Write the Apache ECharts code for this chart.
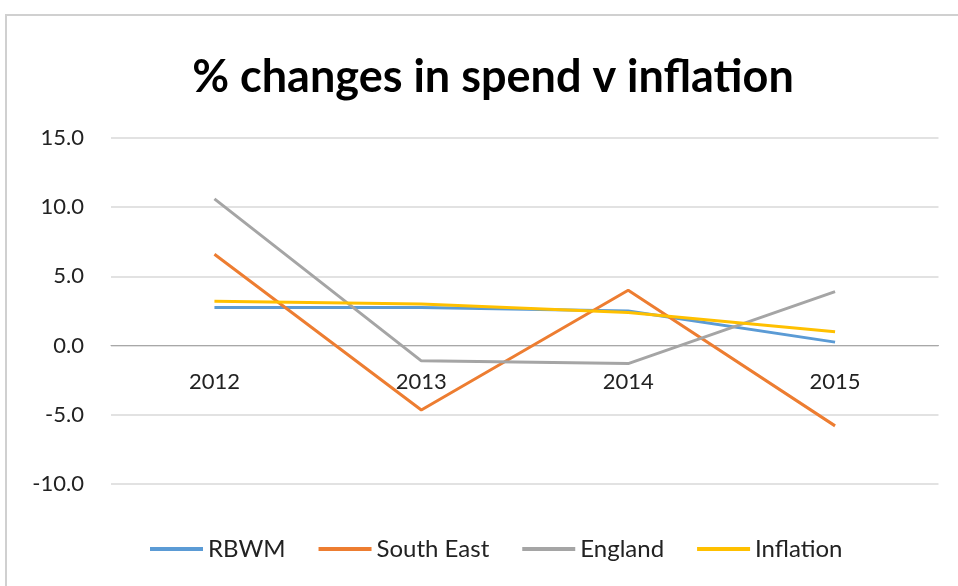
<!DOCTYPE html>
<html>
<head>
<meta charset="utf-8">
<script src="https://cdn.jsdelivr.net/npm/echarts@6/dist/echarts.min.js"></script>
<style>
  html, body { margin: 0; padding: 0; background: #fff; }
  #chart { width: 958px; height: 586px; }
</style>
</head>
<body>
<div id="chart"></div>
<script>
// 数据
var years = ['2012', '2013', '2014', '2015'];
var rbwm = [2.75, 2.75, 2.5, 0.25];
var southEast = [6.6, -4.65, 4.0, -5.8];
var england = [10.6, -1.1, -1.3, 3.9];
var inflation = [3.2, 3.0, 2.4, 1.0];

var font = 'Lato, "Open Sans", sans-serif';

function lineSeries(name, data, color) {
  return {
    name: name,
    type: 'line',
    data: data,
    symbol: 'none',
    lineStyle: { color: color, width: 3 },
    itemStyle: { color: color }
  };
}

var chart = echarts.init(document.getElementById('chart'));
var option = {
  animation: false,
  backgroundColor: '#fff',
  textStyle: { fontFamily: font },
  title: {
    text: '% changes in spend v inflation',
    left: 488,
    textAlign: 'center',
    top: 50,
    textStyle: { fontSize: 45, fontWeight: 'bold', color: '#000', fontFamily: font }
  },
  graphic: [{
    type: 'rect',
    shape: { x: 6, y: 15, width: 1000, height: 700 },
    style: { fill: 'none', stroke: '#d0d0d0', lineWidth: 2 },
    silent: true
  }],
  legend: {
    top: 532,
    left: 145,
    itemWidth: 53,
    itemHeight: 4,
    itemGap: 33,
    icon: 'rect',
    textStyle: { fontSize: 24, color: '#222' },
    data: ['RBWM', 'South East', 'England', 'Inflation']
  },
  grid: { left: 111, right: 19.5, top: 138, bottom: 102 },
  xAxis: {
    type: 'category',
    data: years,
    offset: -138.4,
    axisTick: { show: false },
    axisLine: { onZero: false, lineStyle: { color: '#a8a8a8', width: 1 } },
    axisLabel: { fontSize: 22, color: '#222', margin: 25 }
  },
  yAxis: {
    type: 'value',
    min: -10,
    max: 15,
    interval: 5,
    axisLine: { show: false },
    axisTick: { show: false },
    axisLabel: {
      fontSize: 22, color: '#222', margin: 27,
      formatter: function (v) { return v.toFixed(1); }
    },
    splitLine: { lineStyle: { color: '#d9d9d9', width: 1.5 } }
  },
  series: [
    lineSeries('RBWM', rbwm, '#5b9bd5'),
    lineSeries('South East', southEast, '#ed7d31'),
    lineSeries('England', england, '#a5a5a5'),
    lineSeries('Inflation', inflation, '#ffc000')
  ]
};
chart.setOption(option);
</script>
</body>
</html>
